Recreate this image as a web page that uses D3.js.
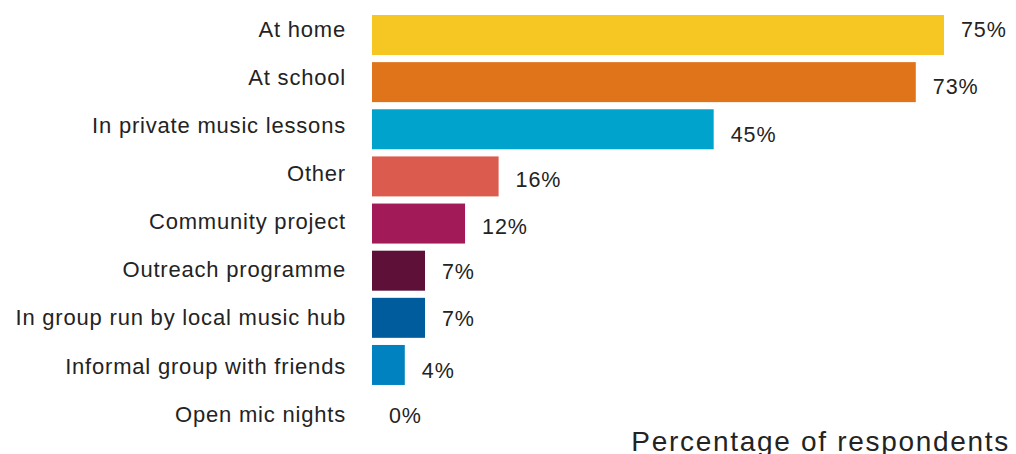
<!DOCTYPE html>
<html>
<head>
<meta charset="utf-8">
<script src="https://cdn.jsdelivr.net/npm/d3@7"></script>
<style>
  html, body { margin: 0; padding: 0; background: #ffffff; }
  svg { display: block; font-family: "Liberation Sans", Arial, Helvetica, sans-serif; }
</style>
</head>
<body>
<svg id="chart" width="1016" height="454"></svg>
<script>
// ---- data ----
const categories = [
  "At home",
  "At school",
  "In private music lessons",
  "Other",
  "Community project",
  "Outreach programme",
  "In group run by local music hub",
  "Informal group with friends",
  "Open mic nights"
];
// bar lengths as drawn (percent)
const values = [75, 71.3, 44.8, 16.6, 12.2, 6.95, 6.95, 4.3, 0];
const valueLabels = ["75%", "73%", "45%", "16%", "12%", "7%", "7%", "4%", "0%"];
const colors = ["#F6C623", "#E0741B", "#00A3CB", "#DB5C4F", "#A21A58", "#5E1039", "#005C9C", "#0082C0", "#0082C0"];
const axisTitle = "Percentage of respondents";

// ---- layout ----
const valueLabelDy = [2, 12, 13, 11, 10, 8, 8, 13, 11];
const textColor = "#232323";

const svg = d3.select("#chart");

const x = d3.scaleLinear().domain([0, 75]).range([372, 944]);
const y = d3.scaleBand().domain(categories).range([15, 432.1]).paddingInner(0.1515).paddingOuter(0);
const yLabel = d3.scalePoint().domain(categories).range([36.7, 421.7]);

// bars
svg.append("g").selectAll("rect")
  .data(categories)
  .join("rect")
  .attr("x", x(0))
  .attr("y", d => y(d))
  .attr("width", (d, i) => x(values[i]) - x(0))
  .attr("height", y.bandwidth())
  .attr("fill", (d, i) => colors[i]);

// category labels
svg.append("g").selectAll("text")
  .data(categories)
  .join("text")
  .attr("x", 346)
  .attr("y", d => yLabel(d))
  .attr("text-anchor", "end")
  .attr("font-size", 22)
  .attr("letter-spacing", 0.8)
  .attr("fill", textColor)
  .text(d => d);

// value labels
svg.append("g").selectAll("text")
  .data(categories)
  .join("text")
  .attr("x", (d, i) => x(values[i]) + 17)
  .attr("y", (d, i) => y(d) + y.bandwidth() / 2 + valueLabelDy[i])
  .attr("font-size", 21.5)
  .attr("letter-spacing", 0.9)
  .attr("fill", textColor)
  .text((d, i) => valueLabels[i]);

// axis title
svg.append("text")
  .attr("x", 1010)
  .attr("y", 451)
  .attr("text-anchor", "end")
  .attr("font-size", 28)
  .attr("letter-spacing", 1.7)
  .attr("fill", textColor)
  .text(axisTitle);
</script>
</body>
</html>
